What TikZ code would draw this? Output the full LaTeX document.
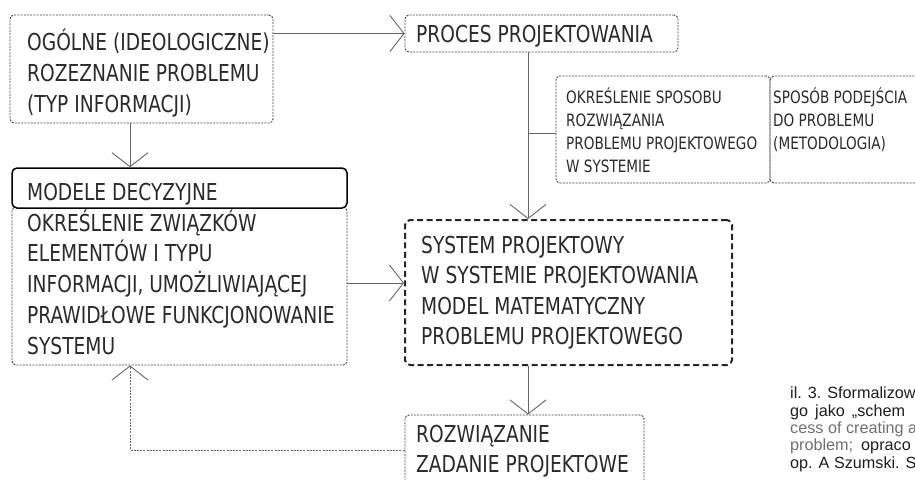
\documentclass[tikz,border=0pt]{standalone}
\usepackage{fontspec}
\usetikzlibrary{arrows.meta}
\newfontfamily\isofont[FakeStretch=0.8]{DejaVu Sans}
\newfontfamily\capfont{Liberation Sans}
\definecolor{ink}{HTML}{2A2A2A}
\definecolor{edgec}{HTML}{444444}
\definecolor{connc}{HTML}{666666}
\definecolor{capgray}{HTML}{707070}
\definecolor{capblack}{HTML}{1E1E1E}
\begin{document}
\begin{tikzpicture}[x=1pt,y=-1pt,
  dotbox/.style={draw=edgec, line width=0.9pt, dash pattern=on 2pt off 1.2pt, rounded corners=4pt, inner sep=0pt},
  solidbox/.style={draw=black, line width=1.5pt, rounded corners=5pt, inner sep=0pt},
  thickbox/.style={draw=black!85, line width=2pt, dash pattern=on 6pt off 3.5pt, rounded corners=5pt, inner sep=0pt},
  big/.style={font=\isofont\fontsize{23.3}{28}\selectfont, text=ink, inner sep=0pt, anchor=base west},
  small/.style={font=\isofont\fontsize{17}{20}\selectfont, text=ink, inner sep=0pt, anchor=base west},
  captxt/.style={font=\capfont\fontsize{16.2}{17}\selectfont, inner sep=0pt, anchor=base west},
  conn/.style={draw=connc, line width=0.9pt},
  arr/.style={conn, -{Straight Barb[length=14pt, width=36pt, line width=0.9pt]}},
  fbarr/.style={arr, dash pattern=on 2pt off 1.2pt}]
\useasboundingbox (0,0) rectangle (915,479);
\fill[white] (0,0) rectangle (915,479);
\clip (0,0) rectangle (915,479);

% boxes
\node[dotbox, minimum width=263pt, minimum height=108pt] (obs) at (141.5,69) {};
\node[dotbox, minimum width=273pt, minimum height=37pt] (proc) at (541.5,33.5) {};
\node[dotbox, minimum width=214pt, minimum height=107pt] (okr) at (663,129.5) {};
\node[dotbox, minimum width=190pt, minimum height=107pt] (spo) at (865,129.5) {};
\node[dotbox, minimum width=335pt, minimum height=158pt] (mod) at (179.5,286) {};
\node[solidbox, fill=white, minimum width=335pt, minimum height=40pt] (modh) at (179.5,188) {};
\node[thickbox, minimum width=327pt, minimum height=145pt] (sys) at (568.5,292.5) {};
\node[dotbox, minimum width=239pt, minimum height=85pt] (roz) at (524.5,457.5) {};

% texts
\node[big] (t1a) at (27,50) {OGÓLNE (IDEOLOGICZNE)};
\node[big] (t1b) at (27,81) {ROZEZNANIE PROBLEMU};
\node[big] (t1c) at (27,112) {(TYP INFORMACJI)};
\node[big] (t2a) at (416,42) {PROCES PROJEKTOWANIA};
\node[small] (t3a) at (566,103) {OKREŚLENIE SPOSOBU};
\node[small] (t3b) at (566,126) {ROZWIĄZANIA};
\node[small] (t3c) at (566,149) {PROBLEMU PROJEKTOWEGO};
\node[small] (t3d) at (566,172) {W SYSTEMIE};
\node[small] (t4a) at (773,103) {SPOSÓB PODEJŚCIA};
\node[small] (t4b) at (773,126) {DO PROBLEMU};
\node[small] (t4c) at (773,149) {(METODOLOGIA)};
\node[big] (t5a) at (27,200) {MODELE DECYZYJNE};
\node[big] (t5b) at (27,231) {OKREŚLENIE ZWIĄZKÓW};
\node[big] (t5c) at (27,261) {ELEMENTÓW I TYPU};
\node[big] (t5d) at (27,292) {INFORMACJI, UMOŻLIWIAJĄCEJ};
\node[big] (t5e) at (27,323) {PRAWIDŁOWE FUNKCJONOWANIE};
\node[big] (t5f) at (27,354) {SYSTEMU};
\node[big] (t6a) at (421,253) {SYSTEM PROJEKTOWY};
\node[big] (t6b) at (421,283.5) {W SYSTEMIE PROJEKTOWANIA};
\node[big] (t6c) at (421,314) {MODEL MATEMATYCZNY};
\node[big] (t6d) at (421,344.5) {PROBLEMU PROJEKTOWEGO};
\node[big] (t7a) at (416,442) {ROZWIĄZANIE};
\node[big] (t7b) at (416,472) {ZADANIE PROJEKTOWE};

% caption
\node[captxt, text=capblack] (c1) at (790,398) {il. 3. Sformalizow};
\node[captxt, text=capblack] (c2) at (790,416) {go\hspace{7pt}jako\hspace{7pt}„schem};
\node[captxt, text=capgray] (c3) at (790,433) {cess of creating a};
\node[captxt, text=capblack] (c4) at (790,450) {{\color{capgray}problem;}\hspace{8pt}opraco};
\node[captxt, text=capblack] (c5) at (790,468) {op. A Szumski. S};

% helper coordinates
\coordinate (colA) at (130,0);
\coordinate (colB) at (528,0);
\coordinate (rowA) at (0,283);
\coordinate (rowB) at (0,450);
\coordinate (br) at (528,133);

% connectors
\draw[arr] (obs.east |- proc.west) -- (proc.west);
\draw[arr] (obs.south -| colA) -- (modh.north -| colA);
\draw[arr] (proc.south -| colB) -- (sys.north -| colB);
\draw[conn] (br) -- (br -| okr.west);
\draw[arr] (mod.east |- rowA) -- (sys.west |- rowA);
\draw[arr] (sys.south -| colB) -- (roz.north -| colB);
\draw[fbarr] (roz.west |- rowB) -| (mod.south -| colA);
\end{tikzpicture}
\end{document}
